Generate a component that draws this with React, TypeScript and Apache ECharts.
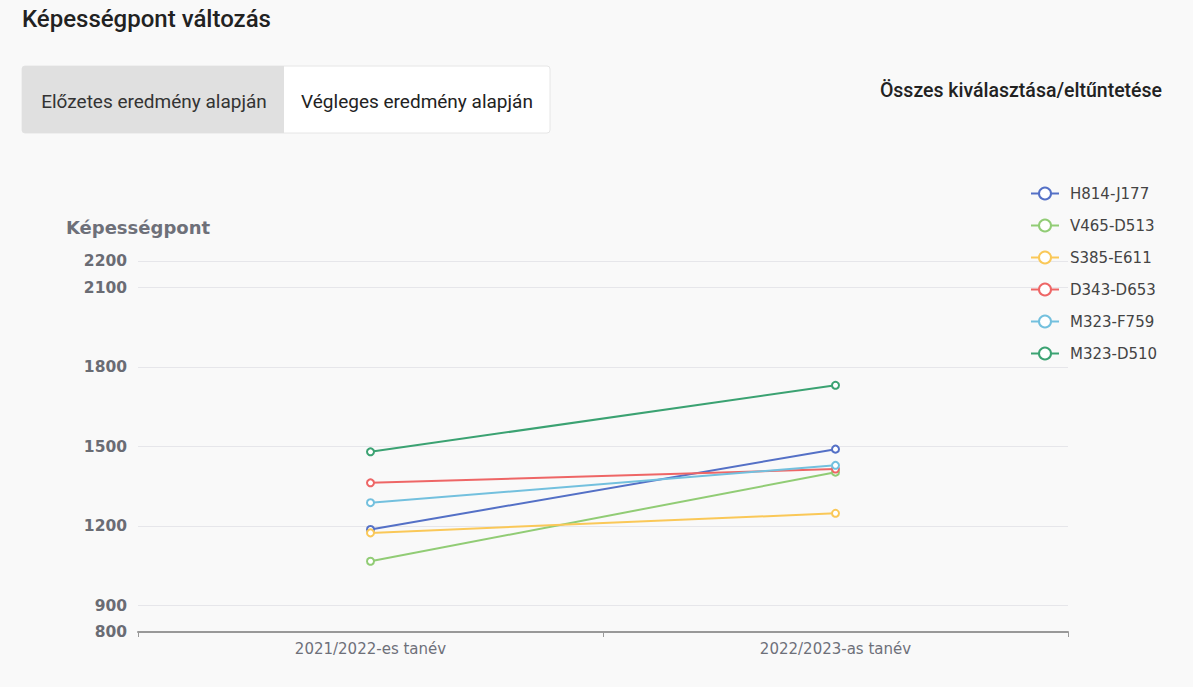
import React, { useEffect, useRef } from "react";
import * as echarts from "echarts";

const categories = ["2021/2022-es tanév", "2022/2023-as tanév"];
const seriesNames = ["H814-J177", "V465-D513", "S385-E611", "D343-D653", "M323-F759", "M323-D510"];
const h814 = [1187, 1490];
const v465 = [1067, 1403];
const s385 = [1174, 1248];
const d343 = [1363, 1415];
const m323f = [1288, 1429];
const m323d = [1480, 1731];
const yTicks = [800, 900, 1200, 1500, 1800, 2100, 2200];

export default function App() {
  const ref = useRef<HTMLDivElement>(null);
  useEffect(() => {
    document.body.style.margin = "0";
    const chart = echarts.init(ref.current!, null, { renderer: "svg" });
    const values = [h814, v465, s385, d343, m323f, m323d];
    chart.setOption({
      animation: false,
      backgroundColor: "#f9f9f9",
      color: ["#5470c6", "#91cc75", "#fac858", "#ee6666", "#73c0de", "#3ba272"],
      textStyle: { fontFamily: "DejaVu Sans" },
      graphic: [
        {
          type: "text",
          left: 22,
          top: 7,
          style: { text: "Képességpont változás", font: "500 24px Roboto", fill: "#222" },
        },
        {
          type: "rect",
          shape: { x: 22, y: 66, width: 528, height: 67, r: 3 },
          style: { fill: "#ffffff", stroke: "#e6e6e6", lineWidth: 1 },
        },
        {
          type: "rect",
          shape: { x: 22, y: 66, width: 262, height: 67, r: [3, 0, 0, 3] },
          style: { fill: "#e0e0e0" },
        },
        {
          type: "text",
          x: 154,
          y: 101,
          style: {
            text: "Előzetes eredmény alapján",
            font: "19px Roboto",
            fill: "#333",
            textAlign: "center",
            textVerticalAlign: "middle",
          },
        },
        {
          type: "text",
          x: 417,
          y: 101,
          style: {
            text: "Végleges eredmény alapján",
            font: "19px Roboto",
            fill: "#222",
            textAlign: "center",
            textVerticalAlign: "middle",
          },
        },
        {
          type: "text",
          x: 1162,
          y: 90,
          style: {
            text: "Összes kiválasztása/eltűntetése",
            font: "500 19.5px Roboto",
            fill: "#222",
            textAlign: "right",
            textVerticalAlign: "middle",
          },
        },
      ],
      legend: {
        orient: "vertical",
        left: 1025,
        top: 181,
        itemWidth: 28,
        itemHeight: 15,
        itemGap: 17,
        data: seriesNames,
        textStyle: { fontSize: 15, color: "#444", fontFamily: "DejaVu Sans", padding: [0, 0, 0, 6] },
      },
      grid: { left: 138, right: 125, top: 261, bottom: 55 },
      xAxis: {
        type: "category",
        data: categories,
        axisLine: { lineStyle: { color: "#999", width: 2 } },
        axisTick: { show: true, length: 5, lineStyle: { color: "#999" } },
        axisLabel: { fontSize: 15, color: "#6e7079", margin: 9 },
      },
      yAxis: {
        type: "value",
        min: 800,
        max: 2200,
        name: "Képességpont",
        nameGap: 25,
        nameTextStyle: { fontSize: 18, fontWeight: "bold", color: "#6e7079" },
        axisTick: { show: false, customValues: yTicks },
        axisLabel: {
          customValues: yTicks,
          formatter: (v: number) => String(v),
          fontSize: 15.5,
          fontWeight: "bold",
          color: "#6a6c74",
          margin: 11,
        },
        splitLine: { lineStyle: { color: "#e6e6ea" } },
      },
      series: seriesNames.map((name, i) => ({
        name,
        type: "line",
        data: values[i],
        symbol: "emptyCircle",
        symbolSize: 7,
        lineStyle: { width: 2 },
      })),
    });
    return () => chart.dispose();
  }, []);
  return <div ref={ref} style={{ width: 1193, height: 687 }} />;
}
